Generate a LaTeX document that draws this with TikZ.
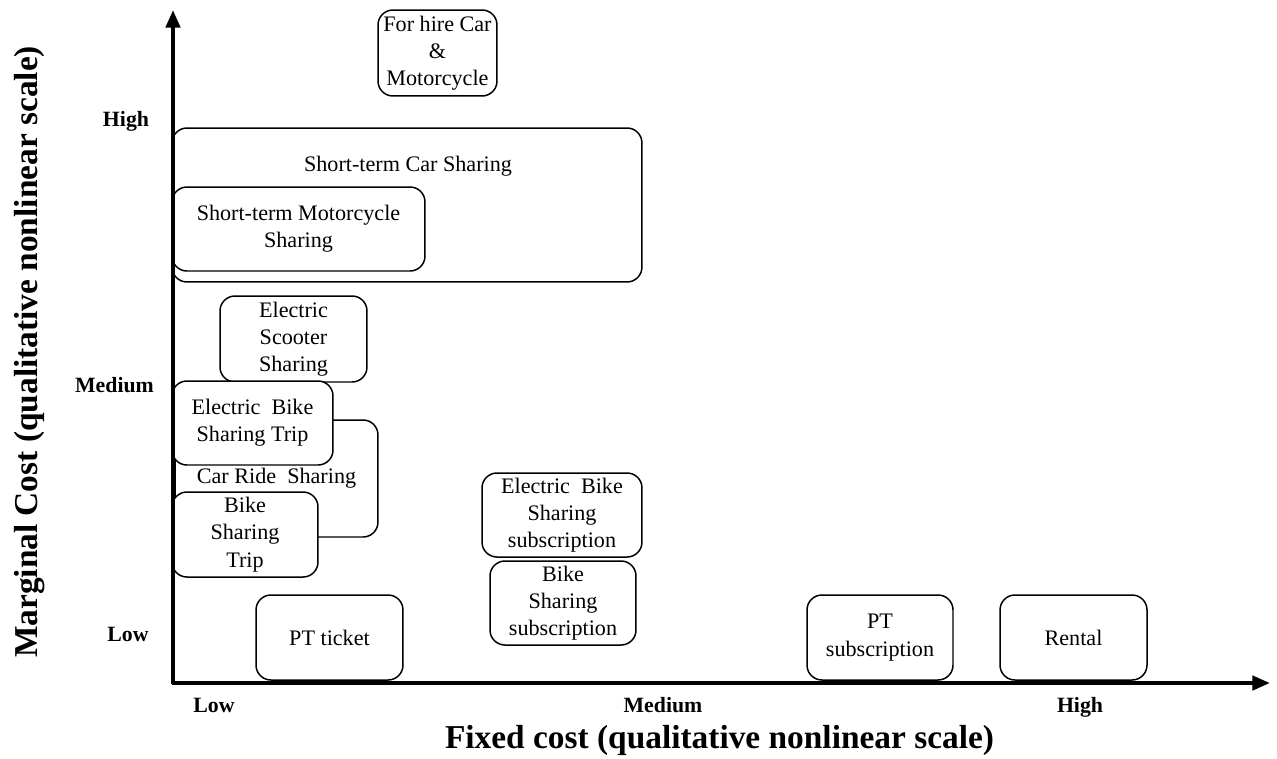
\documentclass[tikz,border=0pt]{standalone}
\usepackage{fontspec}
\setmainfont{Liberation Serif}
\usepackage{tikz}
\usetikzlibrary{positioning, arrows.meta, calc}
\tikzset{
    costbox/.style={draw, fill=white, rounded corners=8.5pt, line width=0.85pt,
        align=center, inner sep=0pt, font=\fontsize{12.6}{15.5}\selectfont},
    boxtext/.style={align=center, inner sep=0pt, font=\fontsize{12.6}{15.5}\selectfont},
    ticklabel/.style={font=\fontsize{12.4}{14}\selectfont\bfseries, inner sep=0pt,
        text height=1.6ex, text depth=0.5ex},
    axistitle/.style={font=\fontsize{19}{22}\selectfont\bfseries, inner sep=0pt}
}

\begin{document}
\begin{tikzpicture}[x=0.02cm, y=-0.02cm]
    \useasboundingbox (0,0) rectangle (1277,758);

    % ---------------- BOXES ---------------- %
    % Short-term car sharing (large box, text near top)
    \node[costbox, minimum width=9.4cm, minimum height=3.08cm] (carshare) at (407,205) {};
    \node[boxtext] (carsharetext) at (408,166) {Short-term Car Sharing};
    \node[costbox, minimum width=5.06cm, minimum height=1.68cm] (moto) at (298.5,229)
        {Short-term Motorcycle\\Sharing};

    % For hire
    \node[costbox, minimum width=2.38cm, minimum height=1.72cm] (hire) at (437.5,53)
        {For hire Car\\\&\\Motorcycle};

    % Scooter, bikes and ride sharing
    \node[costbox, minimum width=2.94cm, minimum height=1.72cm] (scooter) at (293.5,339)
        {Electric\\Scooter\\Sharing};
    \node[costbox, minimum width=4.06cm, minimum height=2.34cm] (carride) at (276.5,478.5)
        {Car Ride~ Sharing};
    \node[costbox, minimum width=3.22cm, minimum height=1.68cm] (ebiketrip) at (252.5,423)
        {Electric~ Bike\\Sharing Trip};
    \node[costbox, minimum width=2.92cm, minimum height=1.70cm] (biketrip) at (245,534.5)
        {Bike\\Sharing\\Trip};

    % Subscriptions
    \node[costbox, minimum width=3.2cm, minimum height=1.68cm] (ebikesub) at (562,515)
        {Electric~ Bike\\Sharing\\subscription};
    \node[costbox, minimum width=2.92cm, minimum height=1.68cm] (bikesub) at (563,603)
        {Bike\\Sharing\\subscription};

    % Low marginal cost row
    \node[costbox, minimum width=2.94cm, minimum height=1.70cm] (ptticket) at (329.5,637.5) {PT ticket};
    \node[costbox, minimum width=2.92cm, minimum height=1.70cm] (ptsub) at (880,637.5) {PT\\subscription};
    \node[costbox, minimum width=2.94cm, minimum height=1.70cm] (rental) at (1073.5,637.5) {Rental};

    % ---------------- AXES ---------------- %
    \coordinate (origin) at (173,683);
    \coordinate (ytop) at (173,10);
    \coordinate (xend) at (1270,683);
    \draw[line width=2.3pt, -{Triangle[length=10pt, width=8pt]}] ($(origin)+(0,1)$) -- (ytop);
    \draw[line width=2.3pt, -{Triangle[length=10pt, width=8pt]}] ($(origin)+(-1,0)$) -- (xend);

    % Tick labels
    \node[ticklabel] (yhigh) at (126,122) {High};
    \node[ticklabel] (ymed) at (114.5,388) {Medium};
    \node[ticklabel] (ylow) at (128,637) {Low};
    \node[ticklabel] (xlow) at (214,708) {Low};
    \node[ticklabel] (xmed) at (663,708) {Medium};
    \node[ticklabel] (xhigh) at (1080,708) {High};

    % Axis titles
    \node[axistitle] (xtitle) at (719.5,740) {Fixed cost (qualitative nonlinear scale)};
    \node[axistitle, rotate=90] (ytitle) at (30,352) {Marginal Cost (qualitative nonlinear scale)};
\end{tikzpicture}
\end{document}
